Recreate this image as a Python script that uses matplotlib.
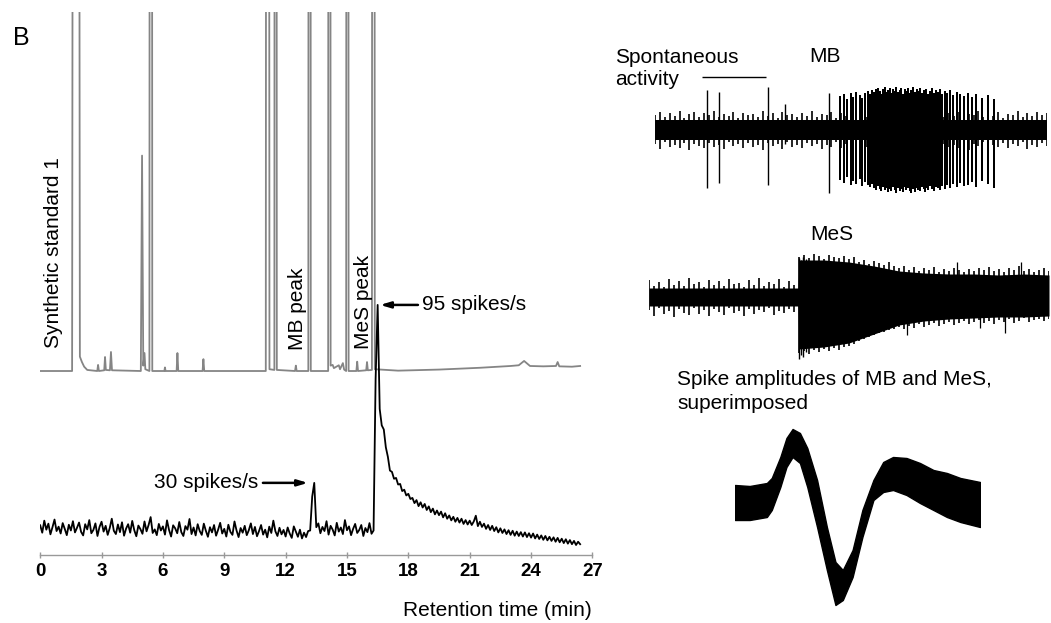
import matplotlib.pyplot as plt
import numpy as np

plt.rcParams['font.family'] = ['Liberation Sans', 'DejaVu Sans']

W, H = 1051, 623

# ---- GC-FID trace (relative response, % of full scale; 1000 = off-scale peak) ----
fid_time = [0.0, 1.56, 1.75, 1.94, 2.04, 2.15, 2.3, 2.79, 2.83, 2.87, 3.13, 3.17, 3.21,
            3.41, 3.46, 3.51, 4.92, 4.98, 5.04, 5.1, 5.14, 5.34, 5.41, 5.48, 6.07, 6.1,
            6.13, 6.67, 6.71, 6.75, 7.94, 7.98, 8.02, 11.03, 11.12, 11.21, 11.45, 11.51,
            11.57, 12.46, 12.5, 12.54, 13.11, 13.17, 13.23, 14.08, 14.14, 14.2, 14.3,
            14.36, 14.6, 14.66, 14.8, 14.86, 14.96, 15.02, 15.08, 15.46, 15.5, 15.54,
            15.94, 15.98, 16.02, 16.22, 16.29, 16.36, 17.5, 19.5, 21.5, 23.0, 23.4,
            23.66, 23.95, 24.6, 25.22, 25.3, 25.38, 26.0, 26.4]
fid_signal = [0, 0, 1000, 4, 2.5, 1.2, 0.3, 0, 1.7, 0, 0.2, 3.9, 0.3,
              0.2, 5.3, 0.2, 0, 60, 1.5, 5, 0.5, 0, 1000, 0, 0, 1.0,
              0, 0, 5, 0, 0, 3.3, 0, 0, 1000, 0.5, 0.3, 1000,
              0.3, 0, 1.5, 0, 0, 1000, 0, 0, 1000, 1.5, 1.7,
              0.8, 1.6, 0.5, 2.2, 0.4, 0, 1000, 0, 0, 2.6, 0,
              0.2, 2.5, 0.2, 0.3, 1000, 0.5, 0.1, 0.4, 0.9, 1.4, 1.6,
              2.8, 1.4, 1.3, 1.4, 2.5, 1.3, 1.2, 1.4]

# ---- EAD response (spikes/s), sampled every 0.1 min ----
ead_step = 0.1
ead_rate = [
    # 0 - 13.1 min
    14.5, 11.8, 16.2, 12.9, 15.1, 11.2, 13.8, 16.6, 12.4, 14.0,
    11.5, 15.3, 13.2, 10.9, 14.7, 12.6, 16.0, 11.9, 13.6, 15.5,
    12.1, 10.8, 14.9, 13.0, 16.4, 11.6, 12.8, 15.2, 10.6, 13.9,
    15.8, 12.2, 14.3, 11.0, 13.5, 16.9, 12.5, 11.3, 14.8, 12.0,
    15.6, 10.7, 13.3, 14.9, 11.8, 16.1, 12.7, 10.5, 14.4, 13.1,
    11.4, 15.9, 12.3, 14.6, 17.5, 11.7, 13.0, 10.9, 15.0, 12.6,
    14.1, 11.1, 16.3, 12.8, 10.4, 14.5, 13.4, 11.6, 15.7, 12.0,
    10.6, 14.2, 12.9, 16.8, 11.3, 13.7, 10.8, 14.9, 12.4, 11.0,
    15.1, 12.5, 10.3, 13.8, 11.9, 14.6, 10.7, 12.9, 15.4, 11.5,
    13.2, 10.4, 14.7, 12.1, 11.0, 15.9, 12.6, 10.2, 13.5, 11.8,
    14.3, 10.9, 12.7, 15.2, 11.3, 13.9, 10.5, 12.4, 14.6, 11.1,
    12.9, 10.1, 14.0, 11.7, 16.2, 12.3, 10.6, 13.6, 11.2, 12.8,
    10.4, 13.7, 11.5, 9.9, 14.1, 12.2, 10.3, 12.9, 9.7, 11.8,
    10.2, 12.4,
    # MB response, 13.2 - 13.5 min
    12.6, 25.0, 30.0, 13.8,
    # 13.6 - 16.3 min
    15.2, 11.6, 13.9, 12.4, 16.0, 11.1, 14.3, 12.9, 10.8, 15.4,
    12.2, 13.7, 11.3, 16.4, 12.7, 14.1, 10.9, 13.2, 15.0, 11.7,
    12.8, 14.6, 10.6, 13.5, 12.0, 15.3, 11.4, 12.6,
    # MeS response, 16.4 - 26.4 min
    68.0, 95.0,
    57.0, 51.0, 49.5, 43.0, 39.5, 34.5, 34.0, 31.5, 31.8, 29.4,
    29.6, 27.0, 27.5, 25.4, 26.0, 24.1, 24.5, 22.6, 23.7, 21.5,
    22.9, 21.0, 22.3, 20.1, 21.4, 19.3, 20.6, 18.5, 19.9, 18.2,
    19.5, 17.4, 18.9, 16.9, 18.1, 16.3, 17.6, 15.8, 17.2, 15.5,
    16.9, 15.0, 16.4, 14.8, 16.2, 14.6, 15.9, 18.0, 14.2, 15.8,
    13.9, 15.1, 13.2, 14.6, 12.8, 14.3, 12.4, 13.8, 11.9, 13.4,
    11.7, 13.0, 11.3, 12.7, 11.0, 12.5, 10.7, 12.2, 10.6, 12.0,
    10.4, 11.9, 10.2, 11.6, 10.0, 11.5, 9.7, 11.1, 9.5, 10.8,
    9.2, 10.6, 9.0, 10.3, 8.8, 10.1, 8.5, 9.9, 8.3, 9.6,
    8.0, 9.4, 7.8, 9.1, 7.6, 8.8, 7.3, 8.5, 7.6]
ead_time = np.arange(len(ead_rate)) * ead_step

x_ticks = list(range(0, 28, 3))

# ---- single-unit recording during MB (µV, time in s) ----
rec_step = 0.5
mb_core = 10
mb_upper = [15, 18, 13, 17, 14, 19, 12, 16, 18, 13, 17, 15, 19, 13, 16, 14, 18, 12, 17, 15,
            16, 13, 19, 14, 17, 12, 18, 15, 16, 13, 17, 14, 19, 13, 16, 15, 18, 12, 17, 14,
            20, 15, 18, 13, 19, 16, 17, 14, 20, 15, 18, 13, 19, 16, 17, 14, 18, 15, 19, 13,
            17, 14, 18, 12, 16, 15, 19, 13, 17, 14, 18, 12, 16, 15, 19, 13, 17, 14, 18, 15, 17]
mb_lower = [14, 19, 12, 17, 15, 18, 13, 20, 14, 16, 18, 13, 17, 15, 19, 12, 16, 14, 18, 13,
            17, 15, 20, 13, 16, 14, 19, 12, 17, 15, 18, 13, 16, 14, 19, 15, 17, 12, 18, 14,
            16, 19, 13, 17, 15, 20, 14, 18, 13, 16, 19, 14, 17, 12, 18, 15, 16, 13, 19, 14,
            17, 15, 18, 13, 20, 14, 16, 12, 19, 15, 17, 13, 18, 14, 16, 12, 19, 15, 17, 13, 16]
spont_window = (4.8, 11.3)
spont_times = [5.3, 6.5, 11.5, 13.3, 17.8]
spont_up = [40, 38, 43, 26, 37]
spont_down = [58, 53, 55, 14, 63]
burst_times = [18.9, 19.3, 19.6, 20.0, 20.2, 20.5, 20.9, 21.1, 21.4, 21.7, 21.9, 22.1, 22.3, 22.5,
               22.6, 22.8, 23.0, 23.1, 23.3, 23.5, 23.6, 23.8, 24.0, 24.1, 24.3, 24.5, 24.6, 24.8,
               25.0, 25.1, 25.3, 25.5, 25.6, 25.8, 26.0, 26.1, 26.3, 26.5, 26.7, 26.8, 27.0, 27.2,
               27.4, 27.5, 27.7, 27.9, 28.1, 28.3, 28.5, 28.7, 28.9, 29.1, 29.3, 29.6, 29.8, 30.1,
               30.4, 30.8, 31.1, 31.5, 31.9, 32.3, 32.8, 33.4, 34.0, 34.6]
burst_up = [34, 36, 31, 37, 33, 38, 35, 32, 37, 39, 36, 40, 38, 41, 37, 42, 39, 36, 41, 43,
            38, 40, 42, 37, 41, 39, 43, 38, 40, 42, 36, 41, 39, 42, 37, 40, 43, 38, 41, 39,
            42, 37, 40, 38, 41, 36, 39, 42, 37, 40, 38, 41, 36, 39, 37, 40, 35, 38, 36, 34,
            37, 33, 36, 32, 35, 31]
burst_down = [50, 53, 47, 55, 51, 54, 49, 56, 52, 55, 57, 54, 58, 55, 60, 56, 59, 61, 57, 60,
              58, 62, 59, 61, 57, 60, 63, 58, 61, 59, 62, 57, 60, 58, 61, 63, 59, 62, 58, 60,
              61, 57, 59, 62, 58, 60, 56, 59, 61, 57, 58, 60, 56, 59, 55, 58, 54, 57, 53, 56,
              55, 52, 57, 51, 54, 58]

# ---- single-unit recording during MeS ----
mes_core_time = [0, 14.9, 15.0, 17.5, 20, 22.5, 25, 27.5, 30, 32.5, 35, 37.5, 40]
mes_core_up = [9, 9, 37, 37, 35, 31, 26, 24, 23, 23, 22, 23, 22]
mes_core_down = [9, 9, 52, 50, 46, 37, 28, 24, 22, 21, 20, 20, 19]
mes_upper = [17, 11, 15, 10, 18, 12, 16, 11, 19, 13, 15, 10, 17, 12, 16, 11, 18, 13, 14, 10,
             17, 12, 19, 11, 15, 13, 18, 10, 16, 12,
             40, 42, 39, 43, 41, 38, 42, 40, 39, 41, 38, 40,
             35, 37, 33, 36, 34, 32, 35, 31,
             29, 31, 27, 30, 26, 29, 27, 30, 25, 28, 26, 29, 27, 25, 28, 26, 29, 27, 30, 26,
             28, 25, 29, 27, 31, 26, 28, 25, 27, 29, 26]
mes_lower = [13, 19, 11, 17, 14, 20, 12, 16, 18, 11, 17, 13, 19, 12, 15, 18, 11, 16, 14, 19,
             12, 17, 13, 15, 11, 18, 14, 16, 12, 15,
             56, 54, 57, 53, 55, 52, 54, 51, 53, 50, 49, 47,
             44, 42, 40, 38, 36, 35, 33, 32,
             30, 32, 29, 31, 27, 30, 28, 26, 29, 27, 25, 28, 26, 24, 27, 25, 23, 26, 24, 27,
             23, 25, 22, 26, 24, 21, 25, 23, 22, 24, 22]
onset_times = [15.0, 15.2, 15.4, 15.7]
onset_up = [39, 37, 40, 38]
onset_down = [62, 58, 60, 55]
mes_extra_times = [25.8, 30.8, 33.1, 35.6, 37.2]
mes_extra_up = [20, 35, 20, 22, 35]
mes_extra_down = [38, 20, 31, 36, 18]

# ---- superimposed spike waveforms: envelope (µV, time in ms) ----
wave_time = [0.0, 0.12, 0.26, 0.30, 0.37, 0.42, 0.47, 0.53, 0.59, 0.67, 0.75, 0.82,
             0.88, 0.96, 1.04, 1.13, 1.21, 1.29, 1.40, 1.51, 1.62, 1.73, 1.84, 2.0]
wave_upper = [17, 16, 19, 24, 45, 64, 73, 69, 54, 22, -25, -60,
              -68, -48, -8, 22, 40, 45, 44, 39, 32, 29, 24, 20]
wave_lower = [-18, -18, -15, -8, 15, 35, 45, 39, 15, -25, -68, -103,
              -98, -75, -35, 2, 10, 12, 7, -1, -8, -15, -20, -25]


def px_axes(fig, x0, y0, x1, y1):
    # axes rectangle given in pixels from the top-left corner
    ax = fig.add_axes([x0 / W, 1 - y1 / H, (x1 - x0) / W, (y1 - y0) / H])
    ax.patch.set_visible(False)
    return ax


def fxy(x, y):
    return x / W, 1 - y / H


fig = plt.figure(figsize=(W / 100, H / 100), dpi=100)

# left panel: FID (grey) and EAD (black)
ax_fid = px_axes(fig, 40.2, 12, 592.4, 555)
ax_fid.plot(fid_time, fid_signal, color='#858585', lw=1.3)
ax_fid.set_xlim(0, 27)
ax_fid.set_ylim(-51.25, 100)
ax_fid.axis('off')

ax = px_axes(fig, 40.2, 12, 592.4, 555)
ax.plot(ead_time, ead_rate, color='black', lw=1.3)
ax.set_xlim(0, 27)
ax.set_ylim(3.65, 202)
for s in ['top', 'left', 'right']:
    ax.spines[s].set_visible(False)
ax.spines['bottom'].set_color('#999999')
ax.spines['bottom'].set_linewidth(1.0)
ax.set_yticks([])
ax.set_xticks(x_ticks, [str(t) for t in x_ticks], fontweight='bold')
ax.tick_params(axis='x', direction='inout', length=4, width=1, color='#999999',
               labelsize=13.5, pad=3.5)

arrow = dict(arrowstyle='-|>,head_length=0.6,head_width=0.18', color='black', lw=1.8,
             shrinkA=0, shrinkB=0)
ax.annotate('', xy=(16.62, 95), xytext=(18.47, 95), arrowprops=arrow)
ax.text(18.65, 95, '95 spikes/s', fontsize=15, va='center', ha='left')
ax.annotate('', xy=(13.09, 30), xytext=(10.89, 30), arrowprops=arrow)
ax.text(10.65, 30, '30 spikes/s', fontsize=15, va='center', ha='right')

fig.text(*fxy(54, 348.3), 'Synthetic standard 1', rotation=90, ha='center', va='bottom', fontsize=15)
fig.text(*fxy(297.5, 350), 'MB peak', rotation=90, ha='center', va='bottom', fontsize=15)
fig.text(*fxy(363.3, 349.3), 'MeS peak', rotation=90, ha='center', va='bottom', fontsize=15)
fig.text(*fxy(592, 616), 'Retention time (min)', ha='right', va='baseline', fontsize=15)
fig.text(*fxy(13, 45), 'B', fontsize=18, va='baseline', ha='left')

# right panel: recordings
mb_time = np.arange(len(mb_upper)) * rec_step
ax_mb = px_axes(fig, 655, 60, 1047, 200)
ax_mb.fill_between(mb_time, -mb_core, mb_core, color='black', lw=0)
ax_mb.vlines(mb_time, -np.array(mb_lower), mb_upper, color='black', lw=1.2)
ax_mb.vlines(spont_times, -np.array(spont_down), spont_up, color='black', lw=1.0)
ax_mb.vlines(burst_times, -np.array(burst_down), burst_up, color='black', lw=1.2,
             antialiased=False)
ax_mb.hlines(53, *spont_window, color='black', lw=1.0)
ax_mb.set_xlim(0, 40)
ax_mb.set_ylim(-70, 70)
ax_mb.axis('off')

mes_time = np.arange(len(mes_upper)) * rec_step
ax_mes = px_axes(fig, 649, 227, 1049, 367)
ax_mes.fill_between(mes_core_time, -np.array(mes_core_down), mes_core_up, color='black', lw=0)
ax_mes.vlines(mes_time, -np.array(mes_lower), mes_upper, color='black', lw=1.2)
ax_mes.vlines(onset_times, -np.array(onset_down), onset_up, color='black', lw=1.0)
ax_mes.vlines(mes_extra_times, -np.array(mes_extra_down), mes_extra_up, color='black', lw=0.9)
ax_mes.set_xlim(0, 40)
ax_mes.set_ylim(-70, 70)
ax_mes.axis('off')

ax_w = px_axes(fig, 735, 392, 980, 612)
ax_w.fill_between(wave_time, wave_lower, wave_upper, color='black', lw=1.0)
ax_w.set_xlim(0, 2.0)
ax_w.set_ylim(-110, 110)
ax_w.axis('off')

fig.text(*fxy(615, 63), 'Spontaneous', fontsize=15, va='baseline')
fig.text(*fxy(615, 85), 'activity', fontsize=15, va='baseline')
fig.text(*fxy(809, 62.5), 'MB', fontsize=15, va='baseline')
fig.text(*fxy(810, 240), 'MeS', fontsize=15, va='baseline')
fig.text(*fxy(677, 385), 'Spike amplitudes of MB and MeS,', fontsize=15, va='baseline')
fig.text(*fxy(677, 409), 'superimposed', fontsize=15, va='baseline')

fig.savefig('out.png', dpi=100)
